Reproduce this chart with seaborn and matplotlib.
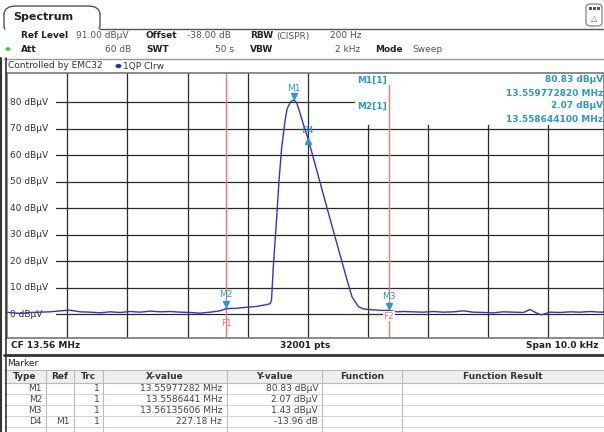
import numpy as np
import pandas as pd
import matplotlib
matplotlib.use("Agg")
import matplotlib.pyplot as plt
import seaborn as sns
from matplotlib.lines import Line2D
from matplotlib.patches import Rectangle, FancyBboxPatch, Circle

# trace: frequency as offset from CF (kHz), level in dBuV
freq_khz = [
    -5.0, -4.96, -4.79, -4.62, -4.46, -4.29, -4.12, -3.96, -3.79, -3.62,
    -3.46, -3.29, -3.12, -2.96, -2.79, -2.62, -2.46, -2.29, -2.12, -1.96,
    -1.79, -1.62, -1.46, -1.356, -1.19, -1.02, -0.85, -0.68, -0.62, -0.60,
    -0.57, -0.54, -0.51, -0.475, -0.43, -0.375, -0.34, -0.28, -0.227, -0.18,
    -0.12, -0.06, 0.0, 0.17, 0.32, 0.50, 0.66, 0.74, 0.85, 0.93,
    1.10, 1.26, 1.356, 1.49, 1.60, 1.76, 1.93, 2.10, 2.26, 2.43,
    2.60, 2.76, 2.93, 3.10, 3.26, 3.43, 3.60, 3.71, 3.82, 3.90,
    4.04, 4.21, 4.38, 4.54, 4.71, 4.875, 4.94,
]
level_dbuv = [
    0.7, 0.63, 0.25, 0.63, 0.75, 0.88, 1.25, 1.5, 0.88, 0.75,
    0.5, 0.88, 0.63, 1.0, 0.75, 1.13, 0.88, 1.0, 0.75, 0.63,
    0.38, 0.75, 1.25, 2.07, 2.2, 2.6, 2.9, 3.6, 4.0, 5.3,
    17.7, 27.8, 37.8, 50.4, 62.9, 72.9, 77.5, 80.2, 80.83, 79.8,
    75.5, 71.0, 66.87, 53.0, 40.5, 25.8, 12.8, 6.6, 2.8, 2.0,
    1.6, 1.4, 1.43, 0.88, 1.0, 0.88, 0.75, 1.0, 0.75, 0.88,
    1.25, 0.75, 0.63, 0.5, 0.88, 0.75, 0.63, 1.75, 0.38, -0.25,
    0.75, 0.63, 0.88, 0.75, 1.0, 0.75, 0.8,
]

marker_names = ["M1", "M2", "M3", "D4"]
marker_khz = [-0.22718, -1.3559, 1.35606, 0.0]
marker_dbuv = [80.83, 2.07, 1.43, 66.87]
marker_ref = ["", "", "", "M1"]
marker_xval = ["13.55977282 MHz", "13.5586441 MHz", "13.56135606 MHz", "227.18 Hz"]
marker_yval = ["80.83 dBµV", "2.07 dBµV", "1.43 dBµV", "-13.96 dB"]

level_ticks = [0, 10, 20, 30, 40, 50, 60, 70, 80]
freq_ticks = [-4, -3, -2, -1, 0, 1, 2, 3, 4]

TRACE = "#3434c8"
MK = "#2a98d4"
RED = "#f07878"
GRID = "#2a2a2a"

sns.set_style("white")
plt.rcParams["font.family"] = ["DejaVu Sans"]

W, H = 604, 432
fig = plt.figure(figsize=(W / 100, H / 100), dpi=100)


def fx(x):
    return x / W


def fy(y):
    return 1 - y / H


def txt(x, y, s, **kw):
    kw.setdefault("fontsize", 6.5)
    kw.setdefault("va", "center")
    kw.setdefault("color", "#333333")
    fig.text(fx(x), fy(y), s, **kw)


def hline(x0, x1, y, color="#888888", lw=1.0):
    fig.add_artist(Line2D([fx(x0), fx(x1)], [fy(y), fy(y)], transform=fig.transFigure,
                          color=color, lw=lw))


def vline(x, y0, y1, color="#888888", lw=1.0):
    fig.add_artist(Line2D([fx(x), fx(x)], [fy(y0), fy(y1)], transform=fig.transFigure,
                          color=color, lw=lw))


def rect(x0, y0, x1, y1, fc, ec="none", lw=0.8):
    fig.add_artist(Rectangle((fx(x0), fy(y1)), (x1 - x0) / W, (y1 - y0) / H,
                             transform=fig.transFigure, fc=fc, ec=ec, lw=lw))


# ---- header ----
fig.add_artist(FancyBboxPatch((fx(4), fy(34)), 96 / W, 28 / H, transform=fig.transFigure,
                              boxstyle="round,pad=0,rounding_size=0.02", fc="white",
                              ec="#555555", lw=1.0))
rect(5, 28.8, 99, 36, "white")
hline(99.5, 604, 28.5, color="#555555", lw=1.0)
txt(13, 17, "Spectrum", fontsize=8, fontweight="bold", color="#222222")

fig.add_artist(FancyBboxPatch((fx(586), fy(26)), 16 / W, 22 / H, transform=fig.transFigure,
                              boxstyle="round,pad=0,rounding_size=0.008", fc="white",
                              ec="#777777", lw=0.8))
for bx in (589, 593, 597):
    rect(bx, 7, bx + 3, 10, "#555577")
txt(594, 18, "△", fontsize=6, ha="center", color="#666666")

row1, row2 = 36, 49
txt(21, row1, "Ref Level", fontweight="bold", color="#222222")
txt(76, row1, "91.00 dBµV", color="#555555")
txt(146, row1, "Offset", fontweight="bold", color="#222222")
txt(187, row1, "-38.00 dB", color="#555555")
txt(250, row1, "RBW", fontweight="bold", color="#222222")
txt(276, row1, "(CISPR)", color="#555555")
txt(362, row1, "200 Hz", ha="right", color="#555555")

fig.add_artist(Circle((fx(8), fy(row2)), 2.6 / W, transform=fig.transFigure, fc="#55bb55", ec="none"))
txt(21, row2, "Att", fontweight="bold", color="#222222")
txt(131, row2, "60 dB", ha="right", color="#555555")
txt(146, row2, "SWT", fontweight="bold", color="#222222")
txt(234, row2, "50 s", ha="right", color="#555555")
txt(250, row2, "VBW", fontweight="bold", color="#222222")
txt(360, row2, "2 kHz", ha="right", color="#555555")
txt(375, row2, "Mode", fontweight="bold", color="#222222")
txt(412, row2, "Sweep", color="#555555")

hline(4, 604, 58.5, color="#999999", lw=1.0)
txt(8, 66, "Controlled by EMC32", color="#333333")
fig.add_artist(Circle((fx(118.5), fy(66)), 3 / W, transform=fig.transFigure, fc="#2233cc", ec="none"))
txt(123, 66, "1QP Clrw", color="#333333")

# ---- spectrum trace ----
ax = fig.add_axes([fx(7.5), fy(338), (W - 7.5) / W, (338 - 73) / H])
ax.set_xlim(-5, (W - 7.5) / 60 - 5)
ax.set_ylim(-9, 91)
ax.set_xticks(freq_ticks)
ax.set_yticks(level_ticks)
ax.set_xticklabels([])
ax.set_yticklabels([])
ax.tick_params(length=0)
ax.set_axisbelow(True)
ax.grid(True, color=GRID, lw=0.9)
for side, sp in ax.spines.items():
    sp.set_color("#777777")
    sp.set_linewidth(1.2)

# marker readout area blanks the grid
ax.add_patch(Rectangle(((355 - 7.5) / (W - 7.5), (338 - 125) / 265), 1, 1,
                       transform=ax.transAxes, fc="white", ec="none", zorder=1))
# level labels sit on a white strip at the left of each grid line
for lv in level_ticks:
    ax.add_patch(Rectangle((0, lv - 2.5), 0.082, 5, transform=ax.get_yaxis_transform(),
                           fc="white", ec="none", zorder=1))
    ax.text(0.005, lv, f"{lv} dBµV", transform=ax.get_yaxis_transform(), fontsize=6.5,
            color="#333333", va="center", ha="left", zorder=2.5)

ax.axvline(marker_khz[1], color=RED, lw=1.0, zorder=2)
ax.axvline(marker_khz[2], color=RED, lw=1.0, ymax=(338 - 85) / 265, zorder=2)

sns.lineplot(x=freq_khz, y=level_dbuv, ax=ax, color=TRACE, lw=1.0, sort=False,
             estimator=None, zorder=3)

for name, mx, my in zip(marker_names, marker_khz, marker_dbuv):
    if name == "D4":
        ax.plot(mx, my - 1.4, marker="^", ms=5, color=MK, ls="none", zorder=4)
        ax.text(mx, my + 2.6, name, ha="center", va="center", fontsize=6.5, color=MK, zorder=4)
    else:
        ax.plot(mx, my + 1.6, marker="v", ms=5, color=MK, ls="none", zorder=4)
        lab_off = 4.2 if name == "M1" else 5.2
        ax.text(mx, my + lab_off, name, ha="center", va="center", fontsize=6.5, color=MK, zorder=4)

ax.text(marker_khz[1], -3.4, "F1", ha="center", va="center", fontsize=6.5, color=RED, zorder=4)
ax.text(marker_khz[2], -0.8, "F2", ha="center", va="center", fontsize=6.5, color=RED, zorder=4,
        bbox=dict(fc="white", ec="none", pad=0.3))

# marker readout (top right)
txt(357, 80, "M1[1]", fontweight="bold", color=MK)
txt(357, 106, "M2[1]", fontweight="bold", color=MK)
txt(603, 80, "80.83 dBµV", ha="right", fontweight="bold", color=MK)
txt(603, 93, "13.559772820 MHz", ha="right", fontweight="bold", color=MK)
txt(603, 106, "2.07 dBµV", ha="right", fontweight="bold", color=MK)
txt(603, 119, "13.558644100 MHz", ha="right", fontweight="bold", color=MK)

# ---- bottom status strip ----
txt(11, 346, "CF 13.56 MHz", fontweight="bold", color="#222222")
txt(305, 346, "32001 pts", ha="center", fontweight="bold", color="#222222")
txt(598, 346, "Span 10.0 kHz", ha="right", fontweight="bold", color="#222222")
hline(4, 604, 355, color="#333333", lw=2.0)

# ---- marker table ----
txt(7, 363, "Marker", color="#222222")
col_edges = [4, 46, 74, 103, 227, 322, 402, 604]
rect(4, 370, 604, 383, "#eeeeee")
hline(4, 604, 369.5, color="#bbbbbb", lw=0.8)
headers = ["Type", "Ref", "Trc", "X-value", "Y-value", "Function", "Function Result"]
for i, h in enumerate(headers):
    txt((col_edges[i] + col_edges[i + 1]) / 2, 376.5, h, ha="center", fontweight="bold",
        color="#333333")
for xe in col_edges[1:-1]:
    vline(xe, 370, 432, color="#bbbbbb", lw=0.8)
row_y = [388.5, 399.5, 410.5, 421.5]
for ry in row_y:
    hline(4, 604, ry + 5.5, color="#cccccc", lw=0.6)
hline(4, 604, 383, color="#bbbbbb", lw=0.8)
for ry, name, ref, xv, yv in zip(row_y, marker_names, marker_ref, marker_xval, marker_yval):
    txt(42, ry, name, ha="right", color="#444444")
    txt(70, ry, ref, ha="right", color="#444444")
    txt(100, ry, "1", ha="right", color="#444444")
    txt(222, ry, xv, ha="right", color="#444444")
    txt(318, ry, yv, ha="right", color="#444444")

# left frame
vline(1.2, 58, 432, color="#333333", lw=1.5)
vline(5.5, 58, 432, color="#333333", lw=1.2)

fig.savefig("out.png", dpi=100)
